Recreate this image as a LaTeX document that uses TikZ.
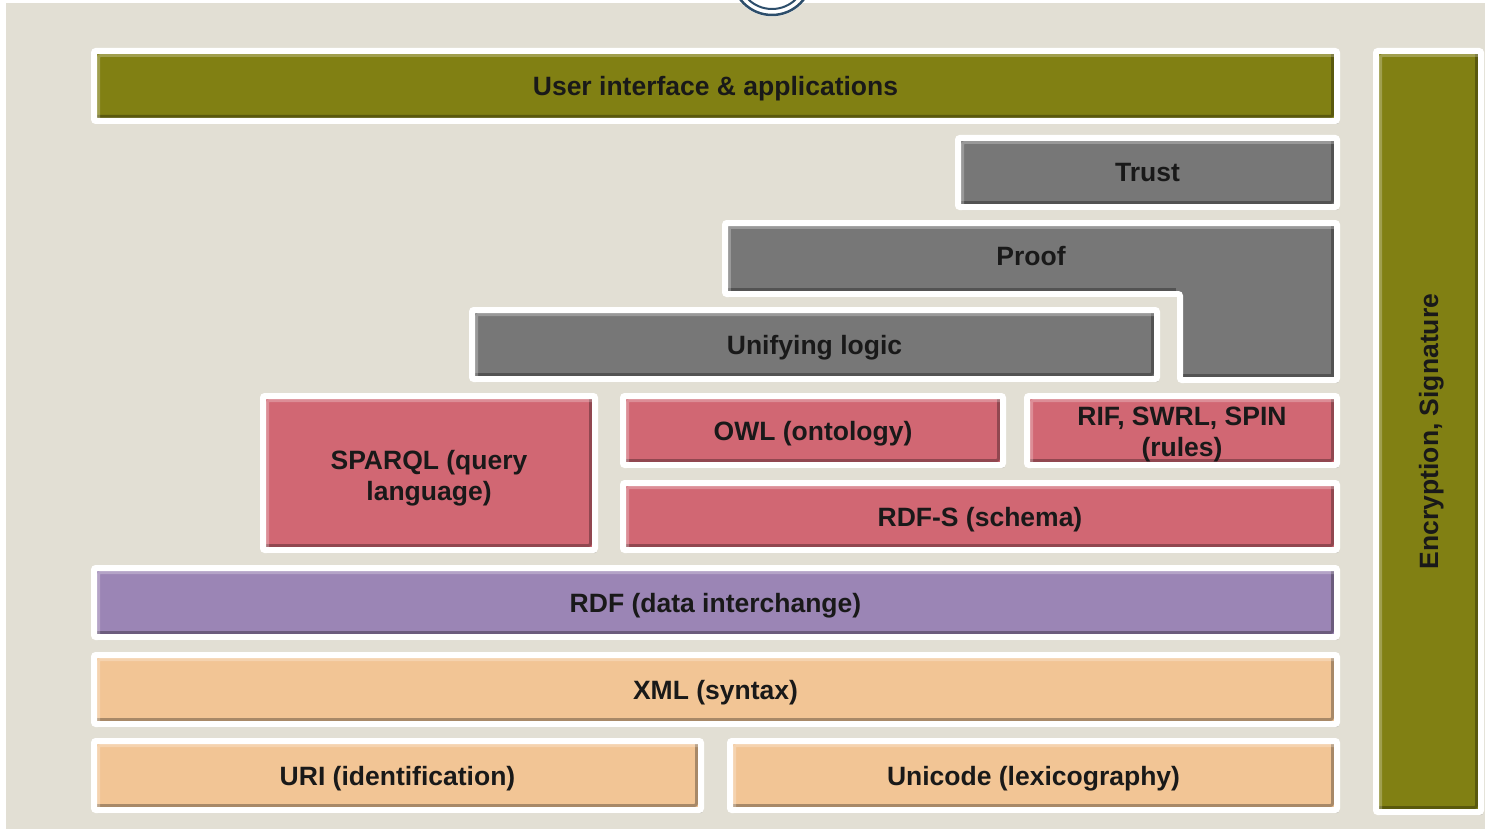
\documentclass[tikz,border=0pt]{standalone}
\usepackage{fontspec}
\setmainfont{Liberation Sans}
\usetikzlibrary{shadows}
\definecolor{bgbeige}{RGB}{226,223,212}
\definecolor{layolive}{RGB}{129,128,19}
\definecolor{laygray}{RGB}{119,119,119}
\definecolor{laypink}{RGB}{209,103,115}
\definecolor{laypurple}{RGB}{155,133,181}
\definecolor{laypeach}{RGB}{242,197,149}
\definecolor{logoblue}{RGB}{45,78,107}
\begin{document}
\begin{tikzpicture}[x=1pt,y=-1pt,
  layer/.style={draw=white, line width=6pt, rounded corners=2pt,
    drop shadow={shadow xshift=2pt, shadow yshift=-3pt, opacity=0.3},
    inner sep=0pt, align=center, text height=19pt, text depth=0pt,
    font=\bfseries\fontsize{26.5}{31}\selectfont, text=black!90,
    path picture={
      \draw[black, opacity=0.3, line width=3pt]
        ([shift={(3pt,4.5pt)}]path picture bounding box.south west) --
        ([shift={(-4.5pt,4.5pt)}]path picture bounding box.south east) --
        ([shift={(-4.5pt,-3pt)}]path picture bounding box.north east);
      \draw[white, opacity=0.25, line width=3pt]
        ([shift={(4.5pt,3pt)}]path picture bounding box.south west) --
        ([shift={(4.5pt,-4.5pt)}]path picture bounding box.north west) --
        ([shift={(-3pt,-4.5pt)}]path picture bounding box.north east);
    }},
  lbl/.style={font=\bfseries\fontsize{26.5}{31}\selectfont, text=black!90, align=center,
    inner sep=0pt, text height=19pt, text depth=0pt}
]
\useasboundingbox (0,0) rectangle (1487,829);
\clip (0,0) rectangle (1487,829);
\fill[white] (0,0) rectangle (1487,829);
\fill[bgbeige] (6,3) rectangle (1485,829);
% logo fragment
\fill[white] (772,-25) circle (41.5pt);
\draw[logoblue, line width=2.5pt] (772,-25) circle (40pt);
\draw[logoblue, line width=2pt] (772,-25) circle (34pt);

\node[layer, fill=layolive, minimum width=1243pt, minimum height=70pt] (ui) at (715.5,86) {User interface \& applications};
\node[layer, fill=layolive, minimum width=105pt, minimum height=761pt] (enc) at (1428.5,431.5) {};
\node[lbl, rotate=90] (enct) at (enc.center) {Encryption, Signature};
\node[layer, fill=laygray, minimum width=379pt, minimum height=69pt] (trust) at (1147.5,172.5) {Trust};

% Proof (L-shape)
\draw[draw=white, line width=6pt, fill=laygray, rounded corners=2pt,
  drop shadow={shadow xshift=2pt, shadow yshift=-3pt, opacity=0.3}]
  (725,223) -- (1337,223) -- (1337,380) -- (1180,380) -- (1180,294) -- (725,294) -- cycle;
\draw[black, opacity=0.3, line width=3pt] (728,289.5) -- (1175.5,289.5);
\draw[black, opacity=0.3, line width=3pt] (1183,375.5) -- (1332.5,375.5) -- (1332.5,226);
\draw[white, opacity=0.25, line width=3pt] (729.5,291) -- (729.5,227.5) -- (1334,227.5);
\node[lbl] (proof) at (1031,256) {Proof};

\node[layer, fill=laygray, minimum width=685pt, minimum height=69pt] (logic) at (814.5,344.5) {Unifying logic};
\node[layer, text height=54pt, fill=laypink, minimum width=332pt, minimum height=154pt] (sparql) at (429,473) {SPARQL (query\\language)};
\node[layer, fill=laypink, minimum width=380pt, minimum height=69pt] (owl) at (813,430.5) {OWL (ontology)};
\node[layer, text height=51pt, fill=laypink, minimum width=310pt, minimum height=69pt] (rif) at (1182,430.5) {RIF, SWRL, SPIN\\(rules)};
\node[layer, fill=laypink, minimum width=714pt, minimum height=67pt] (rdfs) at (980,516.5) {RDF-S (schema)};
\node[layer, fill=laypurple, minimum width=1243pt, minimum height=69pt] (rdf) at (715.5,602.5) {RDF (data interchange)};
\node[layer, fill=laypeach, minimum width=1243pt, minimum height=69pt] (xml) at (715.5,689.5) {XML (syntax)};
\node[layer, fill=laypeach, minimum width=607pt, minimum height=69pt] (uri) at (397.5,775.5) {URI (identification)};
\node[layer, fill=laypeach, minimum width=607pt, minimum height=69pt] (unicode) at (1033.5,775.5) {Unicode (lexicography)};
\end{tikzpicture}
\end{document}
